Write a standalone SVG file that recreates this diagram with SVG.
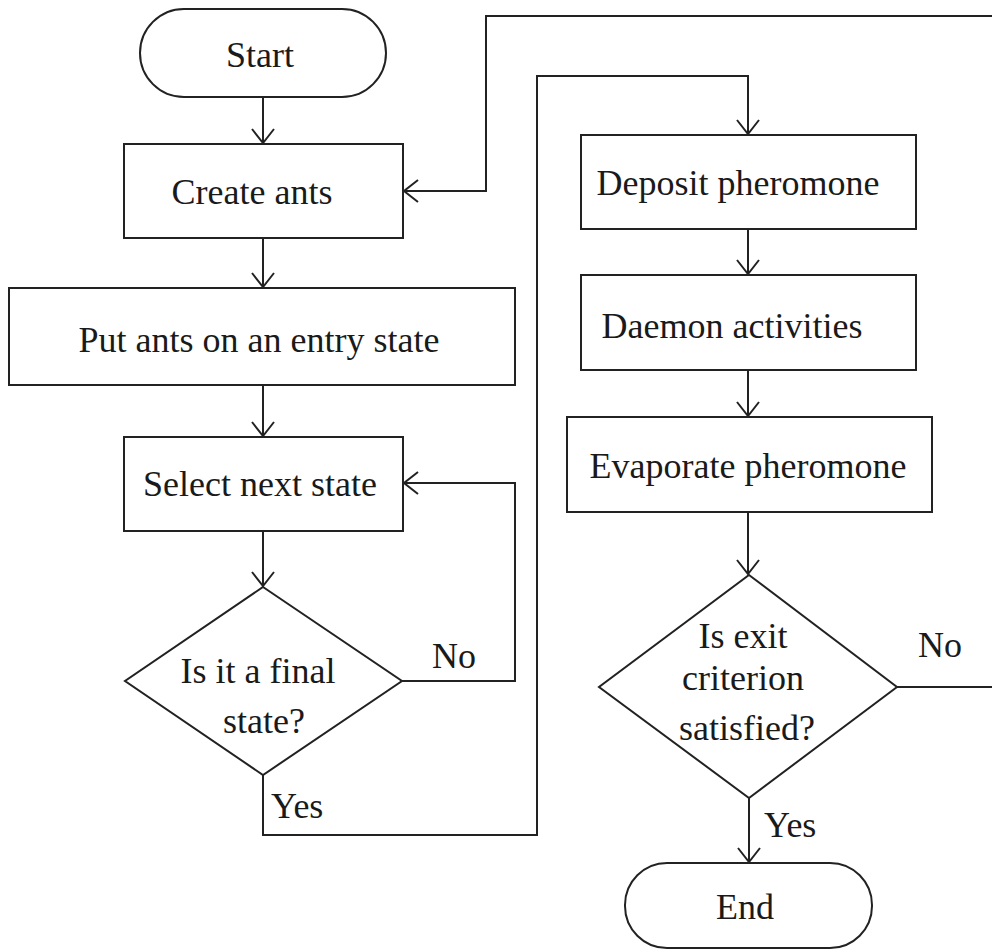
<svg xmlns="http://www.w3.org/2000/svg" width="992" height="951" viewBox="0 0 992 951">
<style>
.s{fill:#fff;stroke:#222;stroke-width:2}
.c{fill:none;stroke:#222;stroke-width:2}
text{font-family:"Liberation Serif","Times New Roman",serif;font-size:36px;fill:#1a1a1a;text-anchor:middle}
.l{text-anchor:start}
</style>
<defs>
<marker id="a" markerUnits="userSpaceOnUse" viewBox="0 0 16 24" markerWidth="16" markerHeight="24" refX="15" refY="12" orient="auto">
<path d="M1,1 L15,12 L1,23" fill="none" stroke="#222" stroke-width="2"/>
</marker>
</defs>
<rect width="992" height="951" fill="#fff"/>
<g id="connectors">
<path class="c" d="M263,97 V143" marker-end="url(#a)"/>
<path class="c" d="M992,16 H486 V191 H404" marker-end="url(#a)"/>
<path class="c" d="M263,238 V287" marker-end="url(#a)"/>
<path class="c" d="M263,385 V436" marker-end="url(#a)"/>
<path class="c" d="M263,531 V586" marker-end="url(#a)"/>
<path class="c" d="M402,681 H515 V483 H404" marker-end="url(#a)"/>
<path class="c" d="M263,775 V835 H537 V76 H748 V134" marker-end="url(#a)"/>
<path class="c" d="M748,229 V274" marker-end="url(#a)"/>
<path class="c" d="M748,370 V416" marker-end="url(#a)"/>
<path class="c" d="M748,512 V574" marker-end="url(#a)"/>
<path class="c" d="M897,687 H992"/>
<path class="c" d="M749,798 V862" marker-end="url(#a)"/>
<text x="454" y="668">No</text>
<text x="271" y="818" class="l">Yes</text>
<text x="940" y="657">No</text>
<text x="764" y="837" class="l">Yes</text>
</g>
<g id="start">
<rect class="s" x="140" y="9" width="246" height="88" rx="44"/>
<text x="260" y="67">Start</text>
</g>
<g id="create">
<rect class="s" x="124" y="144" width="279" height="94"/>
<text x="252" y="204">Create ants</text>
</g>
<g id="put">
<rect class="s" x="9" y="288" width="506" height="97"/>
<text x="259" y="352">Put ants on an entry state</text>
</g>
<g id="select">
<rect class="s" x="124" y="437" width="279" height="94"/>
<text x="260" y="496">Select next state</text>
</g>
<g id="final">
<polygon class="s" points="263,587 402,681 263,775 125,681"/>
<text x="258" y="683">Is it a final</text>
<text x="264" y="733">state?</text>
</g>
<g id="deposit">
<rect class="s" x="581" y="135" width="335" height="94"/>
<text x="738" y="195">Deposit pheromone</text>
</g>
<g id="daemon">
<rect class="s" x="581" y="275" width="335" height="95"/>
<text x="732" y="338">Daemon activities</text>
</g>
<g id="evaporate">
<rect class="s" x="567" y="417" width="365" height="95"/>
<text x="748" y="478">Evaporate pheromone</text>
</g>
<g id="exit">
<polygon class="s" points="749,575 897,687 749,798 599,687"/>
<text x="743" y="648">Is exit</text>
<text x="743" y="690">criterion</text>
<text x="747" y="740">satisfied?</text>
</g>
<g id="end">
<rect class="s" x="625" y="863" width="247" height="85" rx="42"/>
<text x="745" y="919">End</text>
</g>
</svg>
